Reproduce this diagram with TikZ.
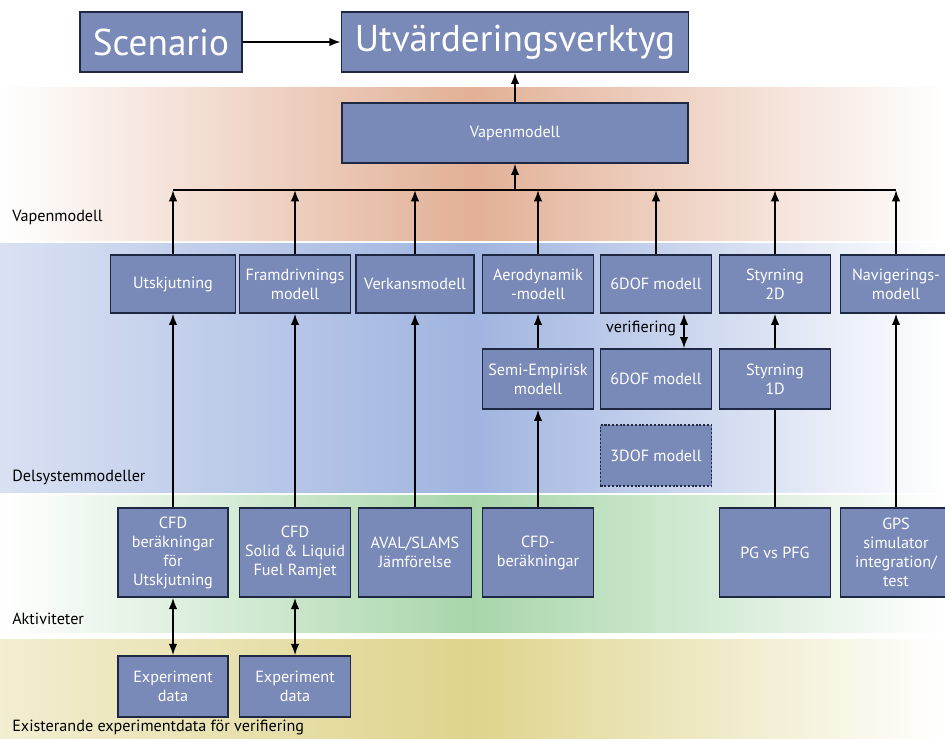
\documentclass[tikz,border=0pt]{standalone}
\usepackage{fontspec}
\setmainfont{PT Sans}
\usepackage{tikz}
\usetikzlibrary{arrows.meta, positioning}

\definecolor{boxfill}{RGB}{122,138,184}
\definecolor{boxline}{RGB}{30,40,66}
\definecolor{bandbrown}{RGB}{226,176,150}
\definecolor{bandblue}{RGB}{160,180,224}
\definecolor{bandgreen}{RGB}{168,214,170}
\definecolor{bandyellow}{RGB}{222,212,140}

\begin{document}
\begin{tikzpicture}[x=0.025cm, y=-0.025cm, box/.style={rectangle, draw=boxline, line width=1pt, fill=boxfill, text=white, align=center, font=\fontsize{11.5}{13.5}\selectfont, inner sep=1pt, minimum width=2.78cm, minimum height=1.45cm}, bigbox/.style={box, font=\fontsize{26.5}{30}\selectfont, minimum height=1.5cm}, layer/.style={font=\fontsize{11.5}{13.5}\selectfont, anchor=west, inner sep=0pt}, arrow/.style={-{Latex[length=8pt, width=6pt]}, line width=1.2pt}, biarrow/.style={{Latex[length=8pt, width=6pt]}-{Latex[length=8pt, width=6pt]}, line width=1.2pt}]
\useasboundingbox (0,0) rectangle (945,738);
\clip (0,0) rectangle (945,738);
\shade[left color=white, right color=white, middle color=bandbrown] (0,87) rectangle (945,240);
\shade[left color=bandblue!40, right color=white, middle color=bandblue] (0,243) rectangle (945,492);
\shade[left color=white, right color=white, middle color=bandgreen] (0,495) rectangle (945,632);
\shade[left color=bandyellow!40, right color=white, middle color=bandyellow] (0,639) rectangle (945,738);

\node[bigbox, minimum width=4.05cm] (scen) at (161,42) {Scenario};
\node[bigbox, minimum width=8.68cm] (utv) at (515,42) {Utvärderingsverktyg};
\node[box, minimum width=8.65cm, minimum height=1.5cm] (vapen) at (515,133) {Vapenmodell};

\node[box, minimum width=3.12cm] (utsk) at (173,284) {Utskjutning};
\node[box] (fram) at (295,284) {Framdrivnings\\modell};
\node[box, minimum width=2.95cm] (verk) at (415,284) {Verkansmodell};
\node[box] (aero) at (538,284) {Aerodynamik\\-modell};
\node[box] (sixdof) at (656,284) {6DOF modell};
\node[box] (styr2) at (775,284) {Styrning\\2D};
\node[box] (navi) at (896,284) {Navigerings-\\modell};

\node[box, minimum height=1.5cm] (semi) at (538,379) {Semi-Empirisk\\modell};
\node[box, minimum height=1.5cm] (sixdofb) at (656,379) {6DOF modell};
\node[box, minimum height=1.5cm] (styr1) at (775,379) {Styrning\\1D};
\node[box, minimum height=1.52cm, line width=1.2pt, dash pattern=on 1.5pt off 1.2pt] (threedof) at (656,455.5) {3DOF modell};

\node[box, minimum width=2.75cm, minimum height=2.23cm] (cfdu) at (173,552.5) {CFD\\beräkningar\\för\\Utskjutning};
\node[box, minimum height=2.23cm] (cfdr) at (295,552.5) {CFD\\Solid \& Liquid\\Fuel Ramjet};
\node[box, minimum width=2.83cm, minimum height=2.23cm] (aval) at (415,552.5) {AVAL/SLAMS\\Jämförelse};
\node[box, minimum height=2.23cm] (cfdb) at (538,552.5) {CFD-\\beräkningar};
\node[box, minimum height=2.23cm] (pg) at (775,552.5) {PG vs PFG};
\node[box, minimum height=2.23cm] (gps) at (896,552.5) {GPS\\simulator\\integration/\\test};

\node[box, minimum width=2.75cm, minimum height=1.53cm] (expa) at (173,686.5) {Experiment\\data};
\node[box, minimum height=1.53cm] (expb) at (295,686.5) {Experiment\\data};

\node[layer] (lvapen) at (12,217) {Vapenmodell};
\node[layer] (ldelsys) at (12,477) {Delsystemmodeller};
\node[layer] (lakt) at (12,619) {Aktiviteter};
\node[layer] (lexist) at (12,727) {Existerande experimentdata för verifiering};

\coordinate (bus) at (515,190);
\draw[arrow] (scen) -- (utv);
\draw[arrow] (vapen) -- (utv);
\draw[arrow] (bus) -- (vapen);
\draw[line width=1.2pt] (utsk.north |- bus) -- (navi.north |- bus);
\foreach \n in {utsk,fram,verk,aero,sixdof,styr2,navi}
  \draw[arrow] (\n) -- (\n.north |- bus);
\draw[arrow] (cfdu) -- (utsk);
\draw[arrow] (cfdr) -- (fram);
\draw[arrow] (aval) -- (verk);
\draw[arrow] (semi) -- (aero);
\draw[arrow] (cfdb) -- (semi);
\draw[arrow] (styr1) -- (styr2);
\draw[line width=1.2pt] (pg) -- (styr1);
\draw[arrow] (gps) -- (navi);
\draw[biarrow] ([xshift=0.7cm]sixdof.south) -- node[left, font=\fontsize{11.5}{13}\selectfont, inner sep=5pt, yshift=2pt] {verifiering} ([xshift=0.7cm]sixdofb.north);
\draw[biarrow] (cfdu) -- (expa);
\draw[biarrow] (cfdr) -- (expb);
\end{tikzpicture}
\end{document}
